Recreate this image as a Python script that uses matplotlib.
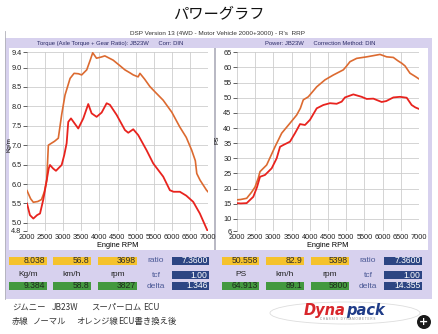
import matplotlib
matplotlib.use("Agg")
import matplotlib.pyplot as plt
from matplotlib.patches import Rectangle, Ellipse

W, H = 438, 334

# ---- torque (Kg/m) ----
tq_orange_rpm = [2000, 2100, 2175, 2300, 2400, 2480, 2545, 2590, 2640, 2760, 2865, 2960, 3050,
                 3190, 3300, 3420, 3510, 3650, 3750, 3815, 3920, 4050, 4150, 4380, 4550, 4705,
                 4850, 4935, 5070, 5120, 5250, 5395, 5560, 5760, 6000, 6220, 6400, 6550, 6650,
                 6690, 6780, 6960, 7000]
tq_orange = [5.83, 5.62, 5.53, 5.55, 5.60, 5.80, 6.10, 7.00, 7.03, 7.10, 7.18, 7.80, 8.29,
             8.72, 8.85, 8.84, 8.81, 8.94, 9.20, 9.38, 9.24, 9.27, 9.30, 9.19, 9.06, 8.94,
             8.86, 8.81, 8.76, 8.85, 8.70, 8.51, 8.35, 8.16, 7.85, 7.47, 7.20, 6.87, 6.60,
             6.27, 6.10, 5.84, 5.80]

tq_red_rpm = [2000, 2080, 2175, 2280, 2360, 2450, 2545, 2600, 2635, 2720, 2800, 2957, 3030,
              3095, 3140, 3215, 3300, 3416, 3555, 3692, 3785, 3923, 4062, 4200, 4290, 4476,
              4705, 4797, 4935, 5072, 5303, 5487, 5763, 5947, 6050, 6223, 6400, 6592, 6775,
              6960, 6985]
tq_red = [5.50, 5.20, 5.11, 5.20, 5.24, 5.60, 6.10, 6.40, 6.49, 6.40, 6.34, 6.49, 6.75,
          7.05, 7.60, 7.69, 7.58, 7.43, 7.69, 8.06, 7.82, 7.73, 7.84, 8.08, 8.04, 7.78,
          7.39, 7.32, 7.41, 7.26, 6.87, 6.53, 6.19, 5.84, 5.80, 5.80, 5.70, 5.54, 5.24,
          4.85, 4.80]

# ---- power (PS) ----
pw_orange_rpm = [2000, 2100, 2266, 2400, 2494, 2585, 2632, 2815, 3044, 3228, 3456, 3640, 3740,
                 3821, 3958, 4190, 4417, 4646, 4920, 5000, 5104, 5288, 5563, 5837, 5928, 6112,
                 6295, 6420, 6524, 6616, 6752, 6900, 7000]
pw_orange = [16.3, 16.4, 16.8, 18.8, 20.5, 23.5, 25.6, 27.8, 33.8, 38.3, 41.6, 44.3, 46.5,
             49.3, 50.3, 53.6, 55.9, 57.5, 59.2, 60.3, 61.9, 63.0, 63.5, 64.1, 64.3, 63.5,
             63.3, 62.2, 61.4, 60.5, 58.1, 57.0, 56.2]

pw_red_rpm = [2000, 2100, 2266, 2448, 2550, 2632, 2769, 2953, 3090, 3182, 3273, 3456, 3594,
              3731, 3868, 4005, 4190, 4372, 4554, 4738, 4875, 4966, 5196, 5425, 5563, 5746,
              5974, 6100, 6295, 6478, 6662, 6798, 6900, 7000]
pw_red = [15.2, 15.1, 15.2, 17.3, 20.5, 23.9, 24.5, 26.7, 30.0, 33.8, 34.4, 35.5, 38.3,
          41.3, 41.0, 42.7, 46.5, 47.6, 48.2, 48.0, 48.7, 50.1, 51.1, 50.3, 49.6, 49.7,
          48.6, 48.9, 50.1, 50.3, 50.0, 47.6, 46.8, 46.3]

x_ticks = [2000, 2500, 3000, 3500, 4000, 4500, 5000, 5500, 6000, 6500, 7000]
tq_ticks = [4.8, 5.0, 5.5, 6.0, 6.5, 7.0, 7.5, 8.0, 8.5, 9.0, 9.4]
pw_ticks = [6, 10, 15, 20, 25, 30, 35, 40, 45, 50, 55, 60, 65]

# readout panels: yellow row, green row, units, ratio/tcf/delta
tq_cursor = ["8.038", "56.8", "3698"]
tq_peak = ["9.384", "58.8", "3827"]
tq_units = ["Kg/m", "km/h", "rpm"]
tq_info = ["7.3600", "1.00", "1.346"]
pw_cursor = ["50.558", "82.9", "5398"]
pw_peak = ["64.913", "89.1", "5800"]
pw_units = ["PS", "km/h", "rpm"]
pw_info = ["7.3600", "1.00", "14.355"]
info_names = ["ratio", "tcf", "delta"]

title = "パワーグラフ"
subtitle = "DSP Version 13 (4WD - Motor Vehicle 2000+3000) - R's  RRP"
tq_header = "Torque (Axle Torque + Gear Ratio): JB23W      Corr: DIN"
pw_header = "Power: JB23W      Correction Method: DIN"
note1 = [("ジムニー", 12), ("JB23W", 52), ("スーパーロム", 91), ("ECU", 143)]
note2 = [("赤線", 12), ("ノーマル", 33), ("オレンジ線", 76), ("ECU書き換え後", 118)]

ORANGE = "#dc6a30"
RED = "#e8231e"
LAV = "#d7d1ee"
YELLOW = "#f5c22c"
GREEN = "#43993f"
NAVY = "#2c4583"
GRID = "#cdcdcd"
LATIN = ["Liberation Sans", "DejaVu Sans"]
CJK = ["Noto Sans CJK JP", "DejaVu Sans"]

fig = plt.figure(figsize=(W / 100, H / 100), dpi=100)
fig.patch.set_facecolor("white")


def rect(x0, y0, x1, y1, color, z=-3):
    fig.patches.append(Rectangle((x0 / W, 1 - y1 / H), (x1 - x0) / W, (y1 - y0) / H,
                                 transform=fig.transFigure, facecolor=color,
                                 edgecolor="none", zorder=z))


def txt(x, y, s, **kw):
    kw.setdefault("family", LATIN)
    fig.text(x / W, 1 - y / H, s, **kw)


# frame, header bars and plot backgrounds
rect(5, 38, 432, 299, LAV)
rect(9, 48, 214, 250, "white", z=-2)
rect(216, 48, 428, 250, "white", z=-2)
rect(214, 48, 216, 250, "#b9b9c4", z=-2)
fig.add_artist(plt.Line2D([4.5 / W, 4.5 / W], [1 - 31 / H, 1 - 299 / H],
                          transform=fig.transFigure, color="#b0b0b8", lw=0.6, zorder=-1))

txt(219, 14, title, family=CJK, fontsize=11, ha="center", va="center", color="#111111")
txt(218, 34, subtitle, fontsize=4.6, ha="center", va="center", color="#333333")
txt(110, 43.5, tq_header, fontsize=4.2, ha="center", va="center", color="#2a2a66")
txt(320, 43.5, pw_header, fontsize=4.2, ha="center", va="center", color="#2a2a66")


def make_axes(x0, y0, x1, y1, ylim, yticks, ylabel, fmt, label_x, label_y):
    ax = fig.add_axes([x0 / W, 1 - y1 / H, (x1 - x0) / W, (y1 - y0) / H])
    ax.set_facecolor("none")
    ax.set_xlim(2000, 7000)
    ax.set_ylim(*ylim)
    ax.set_xticks(x_ticks)
    ax.set_yticks(yticks)
    ax.set_yticklabels([fmt(v) for v in yticks])
    for s in ax.spines.values():
        s.set_visible(False)
    ax.grid(True, color=GRID, lw=0.6)
    ax.tick_params(axis="x", length=0, pad=2.5, labelsize=5.3, colors="#222222")
    ax.tick_params(axis="y", length=3, width=0.5, pad=1, labelsize=5.3,
                   colors="#222222")
    for lab in ax.get_xticklabels() + ax.get_yticklabels():
        lab.set_family(LATIN)
    ax.set_xlabel("Engine RPM", fontsize=5.3, labelpad=0.5, family=LATIN)
    ax.set_ylabel(ylabel, fontsize=4.6, family=LATIN)
    ax.yaxis.set_label_coords(label_x, label_y)
    return ax


ax1 = make_axes(27, 52, 208, 230.6, (4.8, 9.4), tq_ticks, "Kg/m",
                lambda v: f"{v:.1f}", -0.085, 0.48)
ax1.plot(tq_orange_rpm, tq_orange, color=ORANGE, lw=1.2)
ax1.plot(tq_red_rpm, tq_red, color=RED, lw=1.3)

ax2 = make_axes(237, 52.3, 419, 231, (6, 65), pw_ticks, "PS",
                lambda v: f"{v:d}", -0.095, 0.51)
ax2.plot(pw_orange_rpm, pw_orange, color=ORANGE, lw=1.2)
ax2.plot(pw_red_rpm, pw_red, color=RED, lw=1.3)


def readout(xs, xinfo_lab, xinfo_box, cursor, peak, units, info):
    rows = [(256.5, 264.5), (281.5, 289.5)]
    for i, (a, b) in enumerate(xs):
        rect(a, rows[0][0], b, rows[0][1], YELLOW, z=1)
        txt(b - 1.5, (rows[0][0] + rows[0][1]) / 2, cursor[i], fontsize=6.2,
            ha="right", va="center", color="#2a2a2a")
        txt((a + b) / 2, 275, units[i], fontsize=6, ha="center", va="center",
            color="#222222")
        rect(a, rows[1][0], b, rows[1][1], GREEN, z=1)
        txt(b - 1.5, (rows[1][0] + rows[1][1]) / 2, peak[i], fontsize=6.2,
            ha="right", va="center", color="#1e2a1e")
    ys = [260.5, 275, 286]
    for j in range(3):
        txt(xinfo_lab, ys[j] + 0.5, info_names[j], fontsize=6, ha="center", va="center",
            color="#4a5895")
        rect(xinfo_box[0], ys[j] - 4, xinfo_box[1], ys[j] + 4, NAVY, z=1)
        txt(xinfo_box[1] - 1.5, ys[j], info[j], fontsize=6.2, ha="right", va="center",
            color="white")


readout([(9, 47), (53, 91), (98, 137)], 156, (172, 209),
        tq_cursor, tq_peak, tq_units, tq_info)
readout([(222, 259), (266, 304), (311, 349)], 368, (384, 422),
        pw_cursor, pw_peak, pw_units, pw_info)

# notes under the readouts
for s, x in note1:
    txt(x, 307.5, s, family=CJK, fontsize=6.0, ha="left", va="center", color="#333333")
for s, x in note2:
    txt(x, 321.5, s, family=CJK, fontsize=6.0, ha="left", va="center", color="#333333")

# brand mark
fig.add_artist(Ellipse((345 / W, 1 - 313 / H), 150 / W, 22 / H, transform=fig.transFigure,
                       facecolor="none", edgecolor="#dddddd", lw=0.6))
txt(346, 311, "Dyna", fontsize=10.5, weight="bold", style="italic", ha="right",
    va="center", color="#d8262b", family=["DejaVu Sans"])
txt(346, 311, "pack", fontsize=10.5, weight="bold", style="italic", ha="left",
    va="center", color="#1f3c88", family=["DejaVu Sans"])
txt(348, 319.5, "C H A S S I S   D Y N A M O M E T E R S", fontsize=2.2, ha="center",
    va="center", color="#888888")

fig.add_artist(Ellipse((424 / W, 1 - 322 / H), 14 / W, 14 / H, transform=fig.transFigure,
                       facecolor="#1a1a1a", edgecolor="none"))
txt(424, 321.6, "+", fontsize=8, weight="bold", ha="center", va="center", color="white",
    family=["DejaVu Sans"])

fig.savefig("out.png", dpi=100)
